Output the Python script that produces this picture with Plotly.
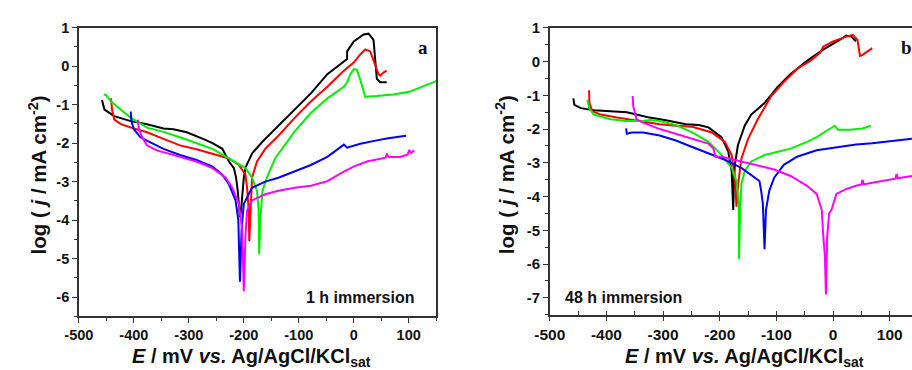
import plotly.graph_objects as go

# ---- Panel a: 1 h immersion (E in mV, log j in mA cm^-2) ----
a_black_E = [-458, -453.5, -435.6, -405.7, -376, -346, -328, -304, -274, -257, -239, -227, -218, -214,
             -211, -209, -207, -205, -203, -200, -197, -185, -167, -137, -107, -78, -48, -18, -12, -12,
             0, 18, 27, 36, 39, 42, 48, 60]
a_black_j = [-0.88, -1.13, -1.30, -1.43, -1.51, -1.62, -1.64, -1.72, -1.89, -2.0, -2.15, -2.48, -2.65, -2.9,
             -3.24, -3.75, -3.92, -3.75, -3.4, -2.9, -2.64, -2.27, -1.98, -1.55, -1.13, -0.71, -0.21, 0.13, 0.18, 0.38,
             0.64, 0.82, 0.84, 0.68, 0.22, -0.33, -0.42, -0.42]

a_red_E = [-441.5, -439.7, -435.6, -423.6, -400, -376, -346, -316, -286, -257, -227, -209, -197, -194,
           -191, -190, -189, -187.4, -185, -176, -161, -137, -107, -78, -48, -18, 0, 12, 21, 30, 39, 45, 48, 54, 60]
a_red_j = [-0.84, -1.13, -1.39, -1.51, -1.62, -1.72, -1.89, -2.06, -2.16, -2.27, -2.40, -2.57, -2.82, -3.16,
           -3.75, -4.55, -4.1, -3.58, -2.9, -2.48, -2.15, -1.81, -1.34, -0.92, -0.54, -0.12, 0.09, 0.30, 0.43, 0.38,
           0.05, -0.21, -0.25, -0.17, -0.12]

a_green_E = [-454.7, -450.5, -441.5, -423.6, -405.7, -376, -346, -316, -286, -257, -227, -197, -185, -176,
             -173, -172, -170, -166, -158, -143, -107, -78, -48, -18, -12, -6, 0, 6, 12, 21, 42, 72, 101, 125, 150]
a_green_j = [-0.74, -0.75, -0.92, -1.13, -1.34, -1.60, -1.71, -1.85, -2.0, -2.15, -2.40, -2.65, -2.9, -3.24,
             -3.75, -4.89, -4.0, -3.24, -2.9, -2.40, -1.69, -1.22, -0.84, -0.54, -0.42, -0.21, -0.08, -0.1, -0.37,
             -0.80, -0.78, -0.74, -0.67, -0.54, -0.39]

a_blue_E = [-405.7, -404.5, -400, -388, -370, -346, -316, -286, -257, -239, -227, -215, -210, -207, -204,
            -200, -185, -161, -137, -107, -78, -48, -24, -18, -12, 12, 42, 60, 95]
a_blue_j = [-1.18, -1.43, -1.64, -1.85, -1.98, -2.15, -2.31, -2.44, -2.61, -2.82, -3.07, -3.49, -4.0, -5.6, -4.25,
            -3.58, -3.16, -3.0, -2.9, -2.74, -2.57, -2.36, -2.10, -2.04, -2.12, -2.02, -1.93, -1.88, -1.81]

a_magenta_E = [-392.6, -390.8, -384.8, -376, -358, -316, -286, -257, -233, -221, -209, -203, -200, -197, -194,
               -185, -161, -137, -107, -78, -48, -18, 0, 24, 48, 58, 60, 63, 84, 98, 101, 104, 110]
a_magenta_j = [-1.39, -1.64, -1.85, -2.06, -2.19, -2.36, -2.48, -2.65, -2.90, -3.16, -3.58, -4.25, -5.85, -4.42,
               -3.75, -3.49, -3.33, -3.24, -3.16, -3.11, -2.99, -2.74, -2.61, -2.48, -2.40, -2.38, -2.27, -2.36,
               -2.36, -2.30, -2.18, -2.26, -2.19]

# ---- Panel b: 48 h immersion ----
b_black_E = [-458.4, -456.6, -445, -422, -393, -364, -347, -324, -295, -260, -237, -220, -197, -185, -179,
             -176.3, -175, -173.4, -168, -156, -144.5, -121, -98, -75, -46, -17, 11.6, 23, 32, 40.5]
b_black_j = [-1.09, -1.28, -1.38, -1.44, -1.47, -1.5, -1.57, -1.66, -1.74, -1.86, -1.88, -1.95, -2.24, -2.67,
             -3.25, -4.4, -3.6, -3.06, -2.48, -1.9, -1.57, -1.23, -0.75, -0.37, 0.02, 0.36, 0.64, 0.77, 0.74, 0.6]

b_red_E = [-430.6, -430, -425, -410, -381.5, -347, -306, -277.5, -248.6, -214, -191, -179, -173.4, -170.5,
           -167.6, -161.8, -150, -133, -110, -87, -63.6, -40.5, -23, -17, 0, 23, 35, 43, 47.4, 52, 69]
b_red_j = [-0.85, -1.23, -1.47, -1.57, -1.66, -1.76, -1.86, -1.9, -1.93, -2.1, -2.38, -2.77, -3.44, -4.3,
           -3.63, -2.87, -2.29, -1.71, -1.04, -0.61, -0.22, 0.02, 0.26, 0.45, 0.6, 0.74, 0.79, 0.64, 0.17, 0.2, 0.4]

b_green_E = [-433.5, -430.6, -422, -393, -364, -335, -323.7, -306, -277.5, -248.6, -220, -196.5, -179, -170.5,
             -166.5, -166, -164, -161.8, -156, -144.5, -121, -98, -75, -46, -29, -11.6, 3, 8.7, 29, 52, 66.5]
b_green_j = [-1.13, -1.38, -1.57, -1.71, -1.76, -1.76, -1.73, -1.76, -1.88, -2.1, -2.38, -2.77, -3.15, -3.54,
             -4.21, -5.85, -4.4, -3.63, -3.25, -2.96, -2.77, -2.67, -2.58, -2.38, -2.24, -2.05, -1.9, -2.02, -2.02,
             -1.98, -1.9]

b_blue_E = [-365.3, -364, -355.5, -335, -306, -277.5, -248.6, -220, -191, -162, -144.5, -130, -127, -124,
            -121, -118.5, -112.7, -104, -87, -63.6, -29, 0, 40.5, 69, 98, 139]
b_blue_j = [-1.98, -2.14, -2.1, -2.1, -2.19, -2.34, -2.53, -2.72, -2.91, -3.15, -3.35, -3.54, -3.83, -4.21,
            -5.56, -4.4, -3.83, -3.44, -3.06, -2.82, -2.63, -2.56, -2.46, -2.42, -2.36, -2.29]

b_magenta_E = [-353.8, -352.6, -346.8, -335, -306, -277.5, -248.6, -220, -211, -208, -196.5, -162, -133, -104,
               -75, -46, -29, -20, -17.4, -14.5, -12.7, -10.4, -7, -3, 5.8, 23, 40.5, 50, 52, 54, 69, 98, 110,
               112, 114, 139]
b_magenta_j = [-1.02, -1.33, -1.71, -1.81, -2.0, -2.14, -2.29, -2.43, -2.58, -2.82, -2.82, -2.96, -3.06, -3.2,
               -3.39, -3.68, -3.92, -4.4, -5.17, -5.75, -6.9, -5.17, -4.5, -4.4, -3.92, -3.78, -3.68, -3.64, -3.5,
               -3.64, -3.59, -3.49, -3.47, -3.33, -3.46, -3.39]

x_ticks = [-500, -400, -300, -200, -100, 0, 100]
x_tick_labels = ["-500", "-400", "-300", "-200", "-100", "0", "100"]
a_y_ticks = [1, 0, -1, -2, -3, -4, -5, -6]
b_y_ticks = [1, 0, -1, -2, -3, -4, -5, -6, -7]

colors = {"black": "#000000", "red": "#FF0000", "green": "#00EE00", "blue": "#0000FF", "magenta": "#FF00FF"}

panel_a = [("black", a_black_E, a_black_j), ("red", a_red_E, a_red_j), ("green", a_green_E, a_green_j),
           ("blue", a_blue_E, a_blue_j), ("magenta", a_magenta_E, a_magenta_j)]
panel_b = [("black", b_black_E, b_black_j), ("red", b_red_E, b_red_j), ("green", b_green_E, b_green_j),
           ("blue", b_blue_E, b_blue_j), ("magenta", b_magenta_E, b_magenta_j)]

fig = go.Figure()
for name, E, j in panel_a:
    fig.add_trace(go.Scatter(x=E, y=j, mode="lines", line=dict(color=colors[name], width=2),
                             xaxis="x", yaxis="y", showlegend=False))
for name, E, j in panel_b:
    fig.add_trace(go.Scatter(x=E, y=j, mode="lines", line=dict(color=colors[name], width=2),
                             xaxis="x2", yaxis="y2", showlegend=False))

W, H = 912, 370
FONT = "Liberation Sans, Arial, sans-serif"


def axis_style(size):
    return dict(showline=True, linecolor="#333", linewidth=1.5, ticks="outside", ticklen=5,
                tickwidth=1.3, tickcolor="#333", showgrid=False, zeroline=False,
                tickfont=dict(family=FONT, size=size, color="#111", weight="bold"))


def y_labels(vals):
    return [str(v) for v in vals]


fig.update_layout(
    width=W, height=H, margin=dict(l=0, r=0, t=0, b=0),
    plot_bgcolor="white", paper_bgcolor="white",
    xaxis=dict(domain=[64 / W, 427.7 / W], range=[-500, 150], tickvals=x_ticks, ticktext=x_tick_labels,
               mirror=True, minor=dict(ticks="outside", ticklen=3, dtick=50, tick0=-500, tickcolor="#333"),
               anchor="y", **axis_style(14.5)),
    yaxis=dict(domain=[1 - 315 / H, 1 - 19 / H], range=[-6.5, 1], tickvals=a_y_ticks,
               ticktext=y_labels(a_y_ticks), mirror=True,
               minor=dict(ticks="outside", ticklen=3, dtick=0.5, tick0=0, tickcolor="#333"),
               anchor="x", **axis_style(14.5)),
    xaxis2=dict(domain=[543.3 / W, 1.0], range=[-500, 139.2], tickvals=x_ticks, ticktext=x_tick_labels,
                mirror=True, minor=dict(ticks="inside", ticklen=4, dtick=50, tick0=-500, tickcolor="#333"),
                anchor="y2", **axis_style(15.5)),
    yaxis2=dict(domain=[1 - 313.3 / H, 1 - 19.3 / H], range=[-7.5, 1], tickvals=b_y_ticks,
                ticktext=y_labels(b_y_ticks), mirror=False,
                minor=dict(ticks="outside", ticklen=3, dtick=0.5, tick0=0, tickcolor="#333"),
                anchor="x2", **axis_style(15)),
)

xtitle_font = dict(family=FONT, size=20, color="#111")
ytitle_font = dict(family=FONT, size=20.5, color="#111")
label_font = dict(family=FONT, size=16, color="#111")
letter_font = dict(family="Liberation Serif, Times New Roman, serif", size=19, color="#111")

xtitle = "<b><i>E</i> / mV <i>vs.</i> Ag/AgCl/KCl<sub>sat</sub></b>"
ytitle = "<b>log ( <i>j</i> / mA cm<sup>-2</sup>)</b>"

annotations = [
    dict(x=240 / W, y=1 - 357 / H, text=xtitle, font=xtitle_font),
    dict(x=742 / W, y=1 - 357 / H, text=xtitle, font=xtitle_font),
    dict(x=22 / W, y=1 - 170 / H, text=ytitle, font=ytitle_font, textangle=-90),
    dict(x=498 / W, y=1 - 170 / H, text=ytitle, font=ytitle_font, textangle=-90),
    dict(x=407 / W, y=1 - 296 / H, text="<b>1 h immersion</b>", font=label_font, xanchor="right"),
    dict(x=557 / W, y=1 - 296 / H, text="<b>48 h immersion</b>", font=label_font, xanchor="left"),
    dict(x=414 / W, y=1 - 39 / H, text="<b>a</b>", font=letter_font),
    dict(x=899 / W, y=1 - 39 / H, text="<b>b</b>", font=letter_font, xanchor="left"),
]
for a in annotations:
    a.setdefault("xanchor", "center")
    fig.add_annotation(xref="paper", yref="paper", yanchor="middle", showarrow=False, **a)

fig.write_html("out.html")
